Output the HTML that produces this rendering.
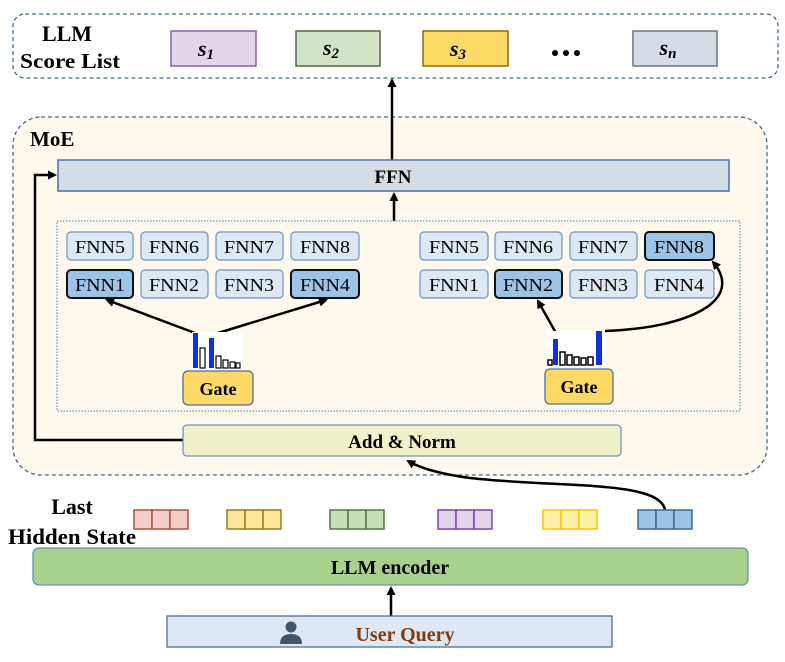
<!DOCTYPE html>
<html><head><meta charset="utf-8"><style>
html,body{margin:0;padding:0;background:#fff;}
svg text{font-family:"Liberation Serif",serif;font-weight:bold;}
</style></head><body>
<svg width="785" height="657" viewBox="0 0 785 657" xmlns="http://www.w3.org/2000/svg">
<defs>
<marker id="ah" markerWidth="9" markerHeight="9" refX="7" refY="4.5" orient="auto" markerUnits="userSpaceOnUse">
<path d="M0,0 L9,4.5 L0,9 Z" fill="#000"/></marker>
</defs>
<!-- Score list -->
<rect x="13" y="14" width="765" height="64" rx="12" fill="#fff" stroke="#3e6a94" stroke-width="1.3" stroke-dasharray="4,3"/>
<text x="67" y="41" font-size="22" text-anchor="middle">LLM</text>
<text x="70" y="68" font-size="21" text-anchor="middle" textLength="100" lengthAdjust="spacingAndGlyphs">Score List</text>
<rect x="171" y="31" width="85" height="35" fill="#e2d5e8" stroke="#8e5bb5" stroke-width="1.5"/>
<rect x="296" y="31" width="84" height="35" fill="#d3e3c8" stroke="#4e6b3a" stroke-width="1.5"/>
<rect x="423" y="31" width="85" height="35" fill="#ffd966" stroke="#8a6a10" stroke-width="1.5"/>
<rect x="633" y="31" width="84" height="35" fill="#d6dce5" stroke="#6b7480" stroke-width="1.5"/>
<g font-style="italic" font-size="22" text-anchor="middle">
<text x="206" y="56">s<tspan font-size="15" dy="3">1</tspan></text>
<text x="331" y="55">s<tspan font-size="15" dy="3">2</tspan></text>
<text x="458" y="56">s<tspan font-size="15" dy="3">3</tspan></text>
<text x="668" y="55">s<tspan font-size="15" dy="3">n</tspan></text>
</g>
<circle cx="555" cy="53" r="3" fill="#000"/><circle cx="566" cy="53" r="3" fill="#000"/><circle cx="577" cy="53" r="3" fill="#000"/>
<!-- MoE -->
<rect x="13" y="117" width="754" height="358" rx="28" fill="#fef9ec" stroke="#3e6a94" stroke-width="1.3" stroke-dasharray="4,3"/>
<text x="30" y="146" font-size="21">MoE</text>
<line x1="392" y1="160" x2="392" y2="80" stroke="#000" stroke-width="2.5" marker-end="url(#ah)"/>
<rect x="58" y="160" width="671" height="31" fill="#d6dce5" stroke="#4a6fa5" stroke-width="1.5"/>
<text x="393" y="183" font-size="19" text-anchor="middle">FFN</text>
<line x1="394" y1="221" x2="394" y2="194" stroke="#000" stroke-width="2.5" marker-end="url(#ah)"/>
<rect x="57" y="221" width="683" height="190" fill="none" stroke="#3c7fc4" stroke-width="1" stroke-dasharray="1.5,1.5"/>
<g stroke-width="1.2">
<rect x="67" y="232" width="66" height="28" rx="4" fill="#dde8f5" stroke="#6b93c4"/>
<rect x="141" y="232" width="67" height="28" rx="4" fill="#dde8f5" stroke="#6b93c4"/>
<rect x="216" y="232" width="67" height="28" rx="4" fill="#dde8f5" stroke="#6b93c4"/>
<rect x="291" y="232" width="68" height="28" rx="4" fill="#dde8f5" stroke="#6b93c4"/>
<rect x="67" y="270" width="66" height="28" rx="4" fill="#9dc3e6" stroke="#111" stroke-width="2"/>
<rect x="141" y="270" width="67" height="28" rx="4" fill="#dde8f5" stroke="#6b93c4"/>
<rect x="216" y="270" width="67" height="28" rx="4" fill="#dde8f5" stroke="#6b93c4"/>
<rect x="291" y="270" width="68" height="28" rx="4" fill="#9dc3e6" stroke="#111" stroke-width="2"/>
<rect x="420" y="232" width="68" height="28" rx="4" fill="#dde8f5" stroke="#6b93c4"/>
<rect x="495" y="232" width="67" height="28" rx="4" fill="#dde8f5" stroke="#6b93c4"/>
<rect x="570" y="232" width="67" height="28" rx="4" fill="#dde8f5" stroke="#6b93c4"/>
<rect x="645" y="232" width="69" height="28" rx="4" fill="#9dc3e6" stroke="#111" stroke-width="2"/>
<rect x="420" y="270" width="68" height="28" rx="4" fill="#dde8f5" stroke="#6b93c4"/>
<rect x="495" y="270" width="67" height="28" rx="4" fill="#9dc3e6" stroke="#111" stroke-width="2"/>
<rect x="570" y="270" width="67" height="28" rx="4" fill="#dde8f5" stroke="#6b93c4"/>
<rect x="645" y="270" width="69" height="28" rx="4" fill="#dde8f5" stroke="#6b93c4"/>
</g>
<g font-size="18" text-anchor="middle" style="font-weight:normal">
<text x="100" y="253" style="font-weight:normal" textLength="50" lengthAdjust="spacingAndGlyphs">FNN5</text><text x="174" y="253" style="font-weight:normal" textLength="50" lengthAdjust="spacingAndGlyphs">FNN6</text><text x="249" y="253" style="font-weight:normal" textLength="50" lengthAdjust="spacingAndGlyphs">FNN7</text><text x="325" y="253" style="font-weight:normal" textLength="50" lengthAdjust="spacingAndGlyphs">FNN8</text>
<text x="100" y="291" style="font-weight:normal" textLength="50" lengthAdjust="spacingAndGlyphs">FNN1</text><text x="174" y="291" style="font-weight:normal" textLength="50" lengthAdjust="spacingAndGlyphs">FNN2</text><text x="249" y="291" style="font-weight:normal" textLength="50" lengthAdjust="spacingAndGlyphs">FNN3</text><text x="325" y="291" style="font-weight:normal" textLength="50" lengthAdjust="spacingAndGlyphs">FNN4</text>
<text x="454" y="253" style="font-weight:normal" textLength="50" lengthAdjust="spacingAndGlyphs">FNN5</text><text x="528" y="253" style="font-weight:normal" textLength="50" lengthAdjust="spacingAndGlyphs">FNN6</text><text x="603" y="253" style="font-weight:normal" textLength="50" lengthAdjust="spacingAndGlyphs">FNN7</text><text x="679" y="253" style="font-weight:normal" textLength="50" lengthAdjust="spacingAndGlyphs">FNN8</text>
<text x="454" y="291" style="font-weight:normal" textLength="50" lengthAdjust="spacingAndGlyphs">FNN1</text><text x="528" y="291" style="font-weight:normal" textLength="50" lengthAdjust="spacingAndGlyphs">FNN2</text><text x="603" y="291" style="font-weight:normal" textLength="50" lengthAdjust="spacingAndGlyphs">FNN3</text><text x="679" y="291" style="font-weight:normal" textLength="50" lengthAdjust="spacingAndGlyphs">FNN4</text>
</g>
<g stroke="#000" stroke-width="2.5" fill="none">
<line x1="195" y1="333" x2="107" y2="300" marker-end="url(#ah)"/>
<line x1="218" y1="333" x2="326" y2="300" marker-end="url(#ah)"/>
<line x1="556" y1="333" x2="538" y2="301" marker-end="url(#ah)"/>
<path d="M605,331 C690,328 745,300 713,262" marker-end="url(#ah)"/>
</g>
<rect x="192" y="332" width="51" height="37" fill="#fff"/>
<rect x="193" y="333" width="5" height="35" fill="#1030e0"/>
<rect x="200" y="348" width="5" height="20" fill="#fff" stroke="#000" stroke-width="1.2"/>
<rect x="209" y="338" width="5" height="30" fill="#1030e0"/>
<rect x="216" y="356" width="5" height="12" fill="#fff" stroke="#000" stroke-width="1.2"/>
<rect x="223" y="360" width="5" height="8" fill="#fff" stroke="#000" stroke-width="1.2"/>
<rect x="230" y="362" width="5" height="6" fill="#fff" stroke="#000" stroke-width="1.2"/>
<rect x="236" y="363" width="4" height="5" fill="#fff" stroke="#000" stroke-width="1.2"/>
<rect x="547" y="331" width="58" height="37" fill="#fff"/>
<rect x="548" y="360" width="4" height="5" fill="#fff" stroke="#000" stroke-width="1.5"/>
<rect x="553" y="339" width="5" height="26" fill="#1030e0"/>
<rect x="560" y="352" width="5" height="13" fill="#fff" stroke="#000" stroke-width="1.5"/>
<rect x="567" y="355" width="5" height="10" fill="#fff" stroke="#000" stroke-width="1.5"/>
<rect x="574" y="357" width="5" height="8" fill="#fff" stroke="#000" stroke-width="1.5"/>
<rect x="581" y="358" width="5" height="7" fill="#fff" stroke="#000" stroke-width="1.5"/>
<rect x="588" y="357" width="5" height="8" fill="#fff" stroke="#000" stroke-width="1.5"/>
<rect x="596" y="331" width="6" height="34" fill="#1030e0"/>
<rect x="183" y="371" width="70" height="34" rx="5" fill="#ffd966" stroke="#4a6fa5" stroke-width="1.3"/>
<text x="218" y="395" font-size="18" text-anchor="middle">Gate</text>
<rect x="545" y="369" width="68" height="35" rx="5" fill="#ffd966" stroke="#4a6fa5" stroke-width="1.3"/>
<text x="579" y="393" font-size="18" text-anchor="middle">Gate</text>
<path d="M183,440 L35,440 L35,175 L55,175" fill="none" stroke="#000" stroke-width="2.5" marker-end="url(#ah)"/>
<rect x="183" y="425" width="438" height="31" rx="4" fill="#f0f1c8" stroke="#6b93c4" stroke-width="1.3"/>
<text x="402" y="448" font-size="19" text-anchor="middle">Add &amp; Norm</text>
<path d="M665,510 C660,480 560,488 470,478 C440,474 420,468 408,461" fill="none" stroke="#000" stroke-width="2.5" marker-end="url(#ah)"/>
<text x="72" y="514" font-size="22" text-anchor="middle">Last</text>
<text x="72" y="544" font-size="22" text-anchor="middle" textLength="128" lengthAdjust="spacingAndGlyphs">Hidden State</text>
<g stroke-width="1.5">
<g fill="#f4cccc" stroke="#b0553a"><rect x="134" y="510" width="18" height="19"/><rect x="152" y="510" width="18" height="19"/><rect x="170" y="510" width="18" height="19"/></g>
<g fill="#ffe599" stroke="#9a7a20"><rect x="227" y="510" width="18" height="19"/><rect x="245" y="510" width="18" height="19"/><rect x="263" y="510" width="18" height="19"/></g>
<g fill="#c5e0b4" stroke="#557a40"><rect x="330" y="510" width="18" height="19"/><rect x="348" y="510" width="18" height="19"/><rect x="366" y="510" width="18" height="19"/></g>
<g fill="#e1d5e7" stroke="#8040b0"><rect x="438" y="510" width="18" height="19"/><rect x="456" y="510" width="18" height="19"/><rect x="474" y="510" width="18" height="19"/></g>
<g fill="#fff2a8" stroke="#ffc000"><rect x="543" y="510" width="18" height="19"/><rect x="561" y="510" width="18" height="19"/><rect x="579" y="510" width="18" height="19"/></g>
<g fill="#9dc3e6" stroke="#3a6a9a"><rect x="638" y="510" width="18" height="19"/><rect x="656" y="510" width="18" height="19"/><rect x="674" y="510" width="18" height="19"/></g>
</g>
<rect x="33" y="548" width="715" height="37" rx="6" fill="#a9d18e" stroke="#6b8fb5" stroke-width="1.3"/>
<text x="390" y="574" font-size="20" text-anchor="middle">LLM encoder</text>
<line x1="391" y1="616" x2="391" y2="588" stroke="#000" stroke-width="2.5" marker-end="url(#ah)"/>
<rect x="167" y="616" width="445" height="31" fill="#dde8f4" stroke="#4a6f9a" stroke-width="1.3"/>
<circle cx="291" cy="627" r="5.5" fill="#44546a"/>
<path d="M280,644 Q280,634 291,634 Q302,634 302,644 Z" fill="#44546a"/>
<text x="405" y="641" font-size="20" text-anchor="middle" fill="#843c0c">User  Query</text>
</svg>
</body></html>
